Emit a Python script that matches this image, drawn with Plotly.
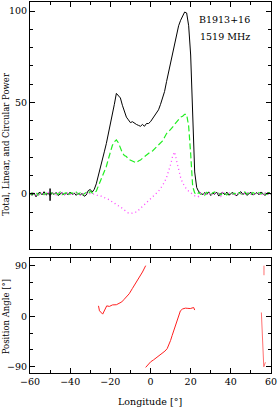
import plotly.graph_objects as go

# Longitude grid (degrees)
lon = list(range(-60, 61))

# Total power (black), -60..-29 | -28..22 | 23..60
total = ([0.3, -0.8, 0.5, -1.6, 0.2, 0.9, -0.5, 1.2, -0.7, 0.4, -1.0, 0.6, -0.3, 0.8, -0.9, 0.1,
          0.7, -0.6, 0.3, -0.4, 1.0, -0.2, 0.5, -0.8, 0.4, -0.5, 0.2, -1.3, -0.6, 1.8, 2.4, 1.0]
         + [2.5, 5.5, 9.5, 14, 18.5, 23, 27.5, 32.5, 37.5, 43.5, 49, 55, 54, 52.5, 48.5, 45, 42,
            40.5, 39, 39.5, 38.5, 38, 37.5, 37, 38, 37, 38.5, 38.5, 39.5, 41, 42.5, 44, 46, 49, 52,
            56, 61.5, 66.5, 71.5, 77, 82, 88, 92, 95, 97.5, 99.5, 99, 92, 76, 45, 12]
         + [3.5, 1.2, 0.5, -0.6, 0.8, -0.3, 1.1, -0.9, 0.4, -0.2, 0.9, -1.2, 0.3, 0.6, -0.5, 1.0,
            -0.7, 0.2, 0.8, -0.4, -1.0, 0.5, 1.2, -0.3, 0.6, -0.8, 0.3, 0.9, -0.6, 0.1, 0.7, -0.5,
            1.0, 0.2, -0.9, 0.4, 0.8, -0.2])

# Linear power (green dashed)
linear = ([-0.5, 0.6, -0.2, 0.9, -0.7, 0.3, 0.8, -0.4, 0.5, -0.9, 0.2, 0.7, -0.6, 0.4, -0.3, 1.0,
           -0.5, 0.2, 0.6, -0.8, 0.3, 0.5, -0.4, 0.9, -0.2, 0.6, -0.7, 0.1, 0.8, -0.3, 1.5, 0.4]
          + [0.5, 1.5, 4, 7, 10, 12.5, 15, 19, 23, 26.5, 28.5, 29.5, 28, 25, 22.5, 21, 20.5, 19,
             18.5, 18, 17.5, 17, 18, 18.5, 19.5, 20.5, 21, 22, 23, 23.5, 24.5, 25.5, 26.5, 27.5, 29,
             31, 33, 34, 35, 36.5, 38, 39.5, 41, 42, 42.5, 43.5, 43.5, 37, 22, 4, 0.5]
          + [-0.4, 0.7, -0.2, 0.5, -0.8, 0.9, 0.1, -0.5, 0.6, 1.0, -0.3, 0.4, -0.7, 0.8, 0.2, -0.6,
             0.5, 0.9, -0.2, 0.3, -0.9, 0.6, 0.1, -0.4, 1.1, -0.1, 0.5, -0.6, 0.8, 0.3, -0.5, 0.7,
             -0.2, 1.0, 0.4, -0.3, 0.6, 0.2])

# Circular power (magenta dotted)
circular = ([0.4, -0.3, 0.8, -0.6, 0.2, -0.9, 0.5, 0.1, -0.4, 0.7, -1.2, 0.3, 0.6, -0.5, 0.9, -0.2,
             0.4, -0.7, 0.8, 0.2, -0.5, 0.6, -0.3, 0.1, 0.7, -0.6, 0.3, -0.2, 0.5, -0.4, 0.2, -0.3]
            + [0, -0.5, -1, -1, -1.5, -2, -2.5, -3, -3.5, -4.5, -5, -6, -6.5, -7, -8, -9, -10, -10.5,
               -10.5, -10.5, -10, -10, -9, -8, -7, -6, -5, -4, -3, -2, -1, 0.5, 1.5, 3, 4.5, 6.5, 9,
               12, 16, 20.5, 23, 18, 13, 9, 6, 4, 2.5, 1.5, 0.5, -0.5, -1]
            + [-0.8, -1.5, 0.3, -0.6, 0.5, -0.2, 0.8, -0.9, 0.2, 0.6, -0.4, 0.1, -1.3, 0.7, -0.3, 0.4,
               0.9, -0.5, 0.2, -0.8, 0.6, -0.1, 0.3, -0.7, 0.5, 1.0, -0.4, 0.2, -0.6, 0.8, -0.2, 0.4,
               -0.9, 0.3, 0.6, -0.5, 0.1, 0.4])

# Off-pulse noise error bar
err_lon = [-50]
err_val = [-0.4]
err_size = [3.4]

# Position angle segments
pa_lon_a = [-25.9, -25.4, -23.8, -22.5, -21.8, -20.5, -18.9, -17, -15.6, -14.3, -13.1, -11.8,
            -10.6, -9, -7.3, -5.7, -4, -2.4]
pa_a = [18.5, 9.7, 3.8, 12.6, 18.5, 17.5, 20.2, 20.5, 22.5, 25.5, 30.2, 35, 40, 49.5, 59.4,
        68.2, 78.7, 90]
pa_lon_b = [-2.4, -1.2, 0.1, 1.4, 2.6, 4.2, 5.9, 7.2, 8.3, 9.2, 10, 10.8, 11.6, 12.5, 13.3,
            14.1, 14.9, 16, 17.4, 18.6, 19.8, 21.5, 22]
pa_b = [-91, -86, -81, -78, -75, -70, -66, -62, -57.7, -51, -43, -34, -25.5, -15, -5, 3, 9.7,
        13, 14.4, 14, 13.7, 15.5, 11]
pa_lon_c = [55.2, 56.4, 57.2, None, 56.5, 56.5]
pa_c = [6.7, -90, -82, None, 90, 73]

font = "DejaVu Serif"
fig = go.Figure()

fig.add_trace(go.Scatter(x=lon, y=total, mode="lines", line=dict(color="black", width=1),
                         xaxis="x", yaxis="y"))
fig.add_trace(go.Scatter(x=lon, y=linear, mode="lines",
                         line=dict(color="#22ee22", width=1.2, dash="6px,3px"),
                         xaxis="x", yaxis="y"))
fig.add_trace(go.Scatter(x=lon, y=circular, mode="lines",
                         line=dict(color="#ff44ff", width=1.3, dash="1px,3px"),
                         xaxis="x", yaxis="y"))
fig.add_trace(go.Scatter(x=err_lon, y=err_val, mode="markers", marker=dict(size=1, color="black"),
                         error_y=dict(type="data", array=err_size, color="black", thickness=1.5, width=0),
                         xaxis="x", yaxis="y"))
for xs, ys, col in [(pa_lon_a, pa_a, "#ff2020"), (pa_lon_b, pa_b, "#ff2020"), (pa_lon_c, pa_c, "#ff7070")]:
    fig.add_trace(go.Scatter(x=xs, y=ys, mode="lines", line=dict(color=col, width=1),
                             connectgaps=False, xaxis="x2", yaxis="y2"))

axis_common = dict(showline=True, linecolor="black", linewidth=1, mirror="allticks",
                   ticks="inside", ticklen=5, tickcolor="black", tickwidth=1,
                   showgrid=False, zeroline=False,
                   tickfont=dict(family=font, size=9.5, color="black"))

fig.update_layout(
    width=278, height=407,
    margin=dict(l=30, r=5, t=1, b=34),
    paper_bgcolor="white", plot_bgcolor="white",
    showlegend=False,
    xaxis=dict(range=[-60, 60], dtick=20, showticklabels=False, anchor="y",
               minor=dict(dtick=10, ticklen=3, ticks="inside", tickcolor="black"), **axis_common),
    yaxis=dict(range=[-30, 105], domain=[0.335, 1], tickvals=[0, 50, 100], anchor="x",
               minor=dict(dtick=10, ticklen=3, ticks="inside", tickcolor="black"), **axis_common),
    xaxis2=dict(range=[-60, 60], dtick=20, anchor="y2", matches="x", ticklabeloverflow="allow",
                minor=dict(dtick=10, ticklen=3, ticks="inside", tickcolor="black"), **axis_common),
    yaxis2=dict(range=[-101, 103], domain=[0, 0.309], tickvals=[-90, 0, 90], anchor="x2",
                minor=dict(dtick=30, ticklen=3, ticks="inside", tickcolor="black"), **axis_common),
)

tf = dict(family=font, size=9.5, color="black")
tt = dict(family=font, size=8.5, color="black")
fig.add_annotation(x=23, y=95.6, xref="x", yref="y", text="B1913+16", showarrow=False,
                   xanchor="left", yanchor="middle", font=tf)
fig.add_annotation(x=23.5, y=86.3, xref="x", yref="y", text="1519 MHz", showarrow=False,
                   xanchor="left", yanchor="middle", font=tf)
fig.add_annotation(x=0.498, y=-0.077, xref="paper", yref="paper", text="Longitude [°]",
                   showarrow=False, xanchor="center", yanchor="middle", font=tf)
fig.add_annotation(x=-0.099, y=0.618, xref="paper", yref="paper",
                   text="Total, Linear, and Circular Power", textangle=-90,
                   showarrow=False, xanchor="center", yanchor="middle", font=tt)
fig.add_annotation(x=-0.099, y=0.1505, xref="paper", yref="paper", text="Position Angle [°]",
                   textangle=-90, showarrow=False, xanchor="center", yanchor="middle", font=tt)

fig.write_html("out.html", config={"displayModeBar": False},
               post_script="document.body.style.margin='0';")
